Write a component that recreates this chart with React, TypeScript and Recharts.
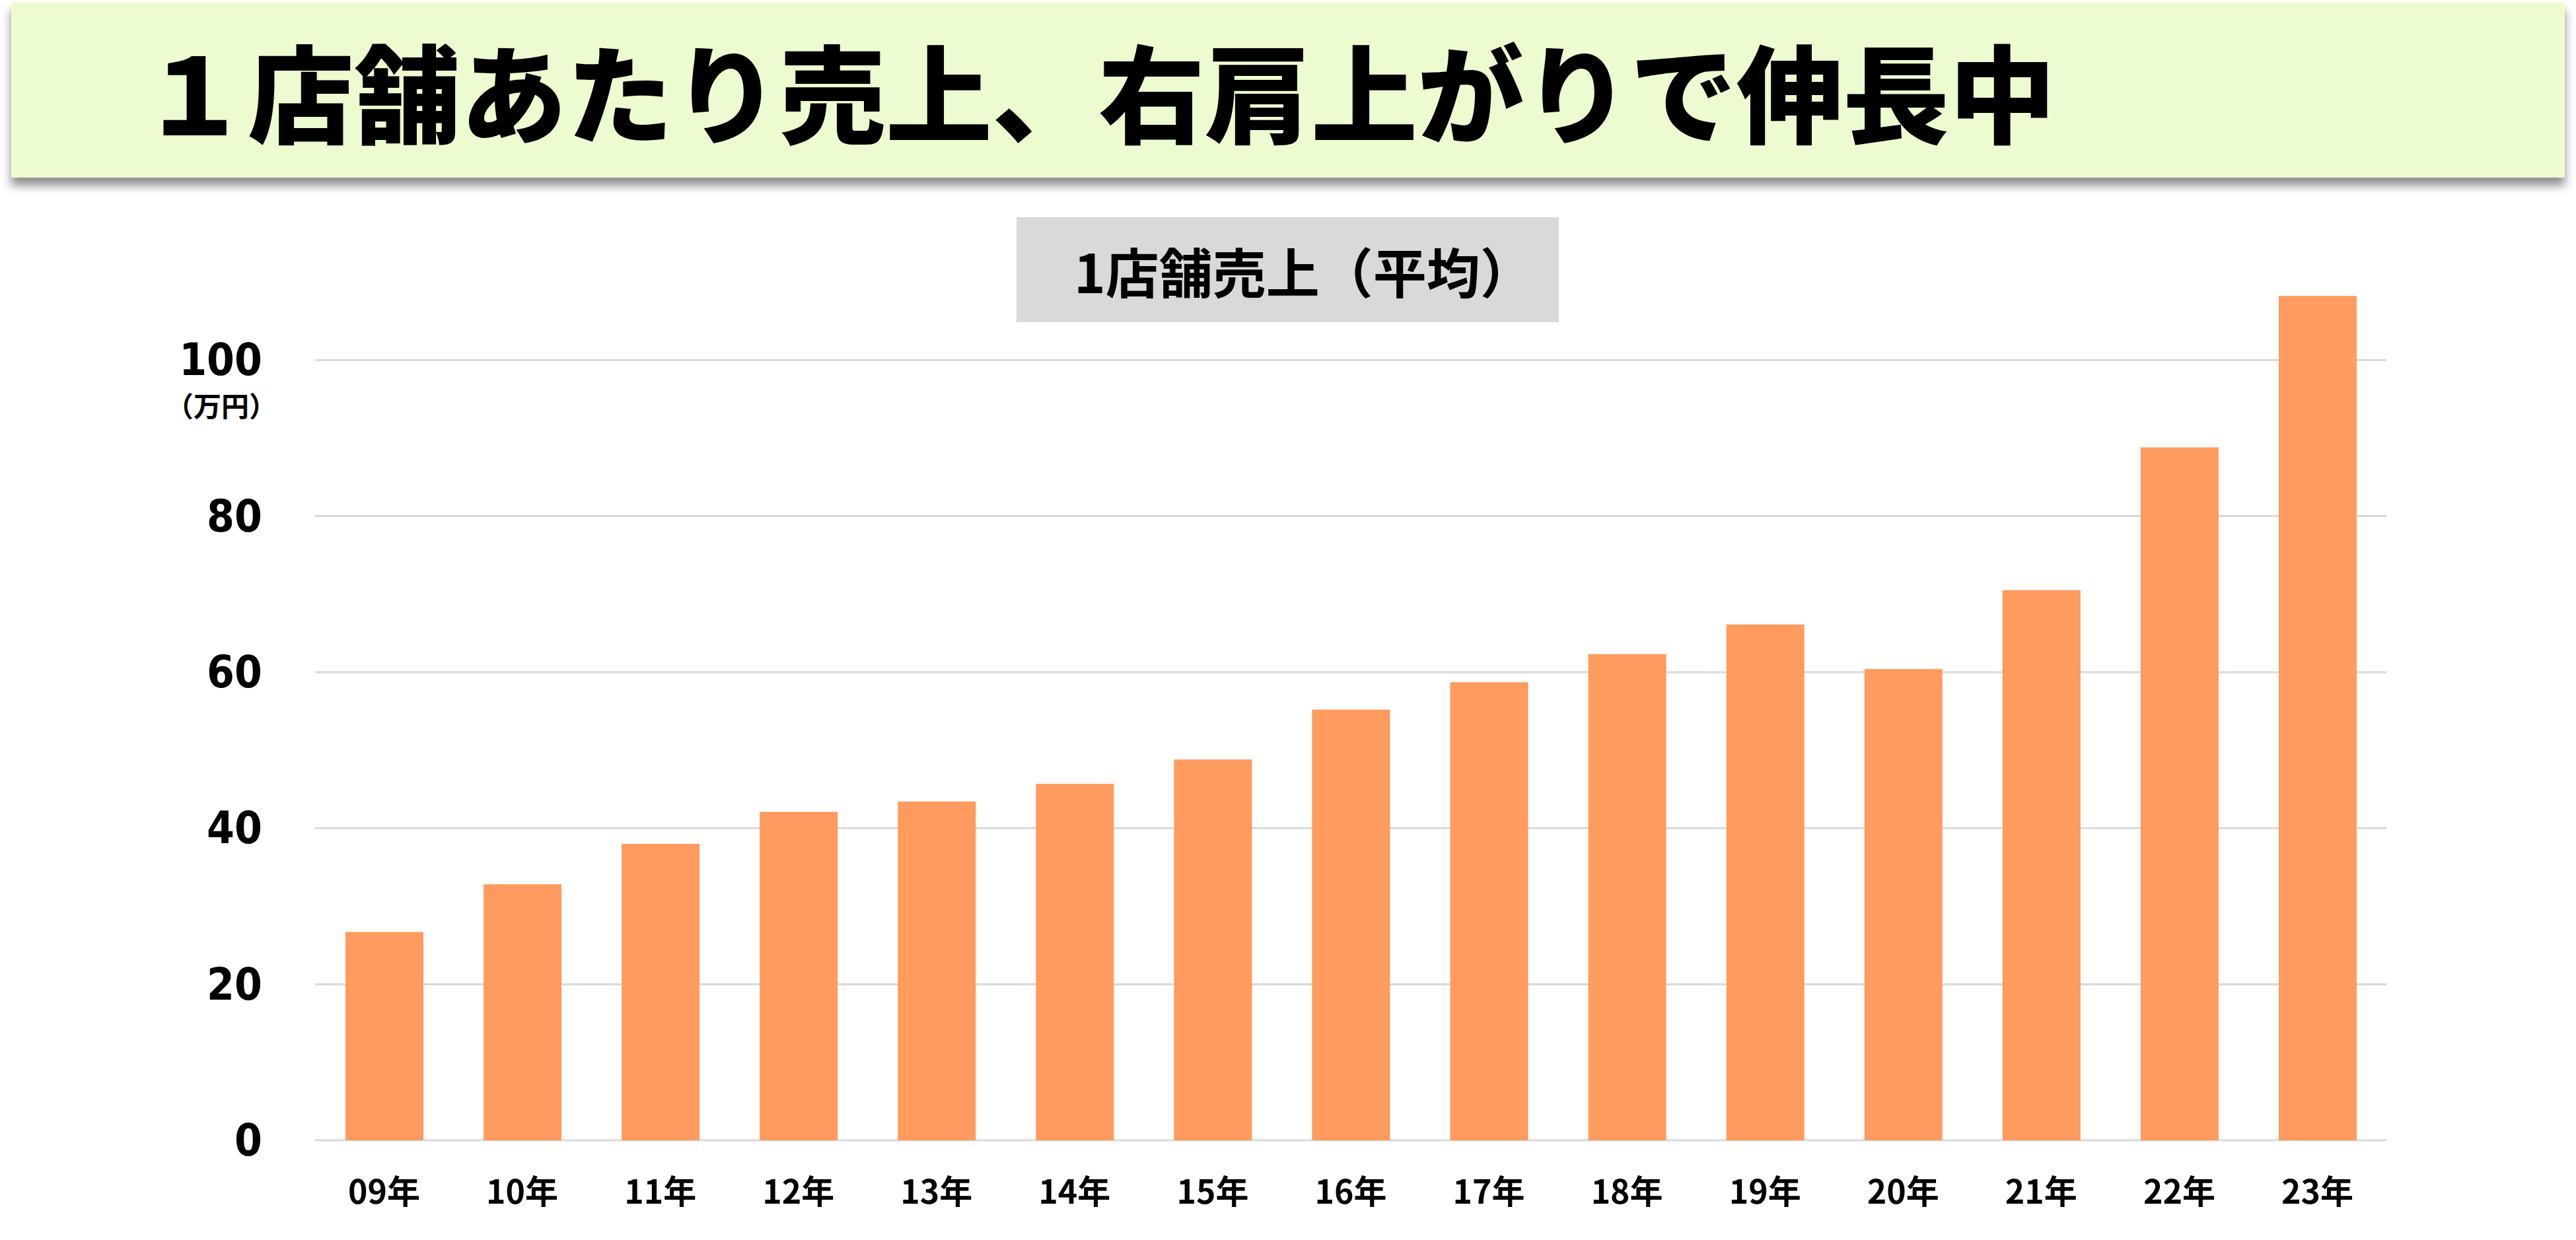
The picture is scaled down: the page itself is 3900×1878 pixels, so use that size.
import { BarChart, Bar, XAxis, YAxis, CartesianGrid } from "recharts"

const years = ["09年", "10年", "11年", "12年", "13年", "14年", "15年", "16年", "17年", "18年", "19年", "20年", "21年", "22年", "23年"]
const sales = [26.7, 32.8, 38.0, 42.1, 43.4, 45.7, 48.8, 55.2, 58.7, 62.3, 66.1, 60.4, 70.5, 88.8, 108.2]
const yTicks = [0, 20, 40, 60, 80, 100]

const data = years.map((year, i) => ({ year, sales: sales[i] }))

const jp = '"Noto Sans CJK JP", "Noto Sans", sans-serif'
const plotTop = 427

function YTick(props: any) {
  const { x, y, payload } = props
  return (
    <g>
      <text
        x={x}
        y={y}
        textAnchor="end"
        dominantBaseline="central"
        fontFamily='"DejaVu Sans Condensed", "DejaVu Sans", sans-serif'
        fontWeight="bold"
        fontSize={67}
        fill="#000"
      >
        {payload.value}
      </text>
      {payload.value === 100 && (
        <text x={x - 62} y={y + 67} textAnchor="middle" dominantBaseline="central" fontFamily={jp} fontWeight="bold" fontSize={42} fill="#000">
          （万円）
        </text>
      )}
    </g>
  )
}

function XTick(props: any) {
  const { x, y, payload } = props
  return (
    <text x={x} y={y + 74} textAnchor="middle" dominantBaseline="central" fontFamily={jp} fontWeight="bold" fontSize={50} fill="#000">
      {payload.value}
    </text>
  )
}

// grid lines only at the tick values, not at the top edge of the plot
function GridLine(props: any) {
  const { x1, x2, y1, y2 } = props
  if (y1 < plotTop + 2) return <g />
  return <line x1={x1} x2={x2} y1={y1} y2={y2} stroke="#D9D9D9" strokeWidth={3} />
}

export default function App() {
  return (
    <div style={{ position: "absolute", left: 0, top: 0, width: 3900, height: 1878, background: "#fff", overflow: "hidden" }}>
      <div
        style={{
          position: "absolute",
          left: 17,
          top: 4,
          width: 3866,
          height: 265,
          background: "#ECFCD0",
          boxShadow: "0 12px 14px rgba(0,0,0,0.45)",
        }}
      />
      <div
        style={{
          position: "absolute",
          left: 214,
          top: 54,
          fontFamily: jp,
          fontWeight: 900,
          fontSize: 161,
          lineHeight: "161px",
          whiteSpace: "nowrap",
          color: "#000",
        }}
      >
        １店舗あたり売上、右肩上がりで伸長中
      </div>
      <div
        style={{
          position: "absolute",
          left: 1539,
          top: 329,
          width: 821,
          height: 159,
          paddingLeft: 87,
          boxSizing: "border-box",
          background: "#D9D9D9",
          display: "flex",
          alignItems: "center",
          justifyContent: "flex-start",
          fontFamily: jp,
          fontWeight: "bold",
          fontSize: 81,
          color: "#000",
          whiteSpace: "nowrap",
        }}
      >
        1店舗売上（平均）
      </div>
      <div style={{ position: "absolute", left: 0, top: 0 }}>
        <BarChart width={3900} height={1878} data={data} margin={{ top: plotTop, right: 287, bottom: 0, left: 0 }}>
          <CartesianGrid vertical={false} horizontal={<GridLine />} />
          <XAxis dataKey="year" axisLine={false} tickLine={false} tickSize={0} tickMargin={0} height={151} interval={0} tick={<XTick />} />
          <YAxis
            domain={[0, 110]}
            ticks={yTicks}
            axisLine={false}
            tickLine={false}
            tickSize={0}
            tickMargin={80}
            width={477}
            interval={0}
            tick={<YTick />}
          />
          <Bar dataKey="sales" fill="#FF9B5E" barSize={118} isAnimationActive={false} />
        </BarChart>
      </div>
    </div>
  )
}
